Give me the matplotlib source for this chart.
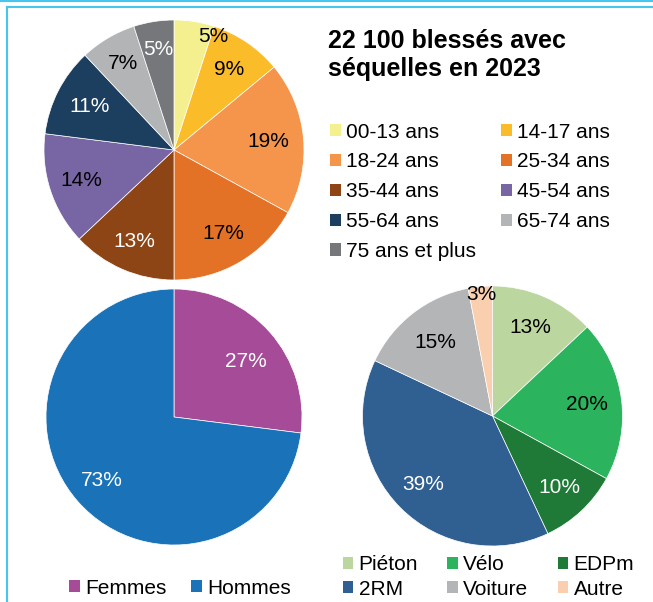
import numpy as np
import matplotlib.pyplot as plt
from matplotlib.lines import Line2D
from matplotlib.patches import Patch

plt.rcParams['font.family'] = ['Liberation Sans', 'DejaVu Sans']

W, H = 653, 602

# age groups
age_labels = ['00-13 ans', '14-17 ans', '18-24 ans', '25-34 ans', '35-44 ans',
              '45-54 ans', '55-64 ans', '65-74 ans', '75 ans et plus']
age_values = [5, 9, 19, 17, 13, 14, 11, 7, 5]
age_colors = ['#F5F08F', '#FBBC2A', '#F4954B', '#E37126', '#8E4515',
              '#7865A3', '#1C3F60', '#B3B4B6', '#76777A']
age_txt = ['black', 'black', 'black', 'black', 'white', 'black', 'white', 'black', 'white']

# sex
sex_labels = ['Femmes', 'Hommes']
sex_values = [27, 73]
sex_colors = ['#A64B97', '#1A72B8']
sex_txt = ['white', 'white']

# mode
mode_labels = ['Piéton', 'Vélo', 'EDPm', '2RM', 'Voiture', 'Autre']
mode_values = [13, 20, 10, 39, 15, 3]
mode_colors = ['#BBD69E', '#2BB35E', '#1E7A36', '#305F91', '#B4B5B7', '#F9CFAF']
mode_txt = ['black', 'black', 'white', 'white', 'black', 'black']

FS = 15


def px_axes(fig, cx, cy, r):
    # square axes around a pie centre given in pixels (y from top)
    return fig.add_axes([(cx - r) / W, (H - cy - r) / H, 2 * r / W, 2 * r / H])


def draw_pie(ax, values, colors, txt_colors, dists, shifts):
    wedges, _ = ax.pie(values, colors=colors, startangle=90, counterclock=False,
                       wedgeprops=dict(edgecolor='white', linewidth=0.5))
    for w, v, c, d, s in zip(wedges, values, txt_colors, dists, shifts):
        ang = np.deg2rad((w.theta1 + w.theta2) / 2 - s)
        ax.text(d * np.cos(ang), d * np.sin(ang), f'{v}%', color=c,
                fontsize=FS, ha='center', va='center')
    ax.set_xlim(-1, 1)
    ax.set_ylim(-1, 1)
    ax.axis('off')
    return wedges


def handles(colors, labels, order):
    return ([Patch(facecolor=colors[i], edgecolor='none') for i in order],
            [labels[i] for i in order])


fig = plt.figure(figsize=(W / 100, H / 100), dpi=100)

# frame lines
col_frame = '#45C6EF'
fig.add_artist(Line2D([1 / W, 1], [1 - 1 / H, 1 - 1 / H], color=col_frame, lw=1.5))
fig.add_artist(Line2D([7 / W, 1], [1 - 7 / H, 1 - 7 / H], color=col_frame, lw=1.5))
fig.add_artist(Line2D([7 / W, 7 / W], [1 - 7 / H, 0], color=col_frame, lw=1.5))

# age pie
ax1 = px_axes(fig, 174, 150, 130)
d1 = [0.92, 0.75, 0.73, 0.75, 0.77, 0.75, 0.73, 0.77, 0.78]
s1 = [10, 0, 0, 0, 0, 0, 0, 0, 0]
draw_pie(ax1, age_values, age_colors, age_txt, d1, s1)

# sex pie
ax2 = px_axes(fig, 174, 417, 128)
draw_pie(ax2, sex_values, sex_colors, sex_txt, [0.71, 0.75], [4, 0])

# mode pie
ax3 = px_axes(fig, 492.5, 416, 130)
d3 = [0.74, 0.73, 0.75, 0.75, 0.72, 0.94]
draw_pie(ax3, mode_values, mode_colors, mode_txt, d3, [0] * 6)

fig.text(328 / W, 1 - 29 / H, '22 100 blessés avec\nséquelles en 2023',
         fontsize=18, fontweight='bold', ha='left', va='top', linespacing=1.2)

leg_kw = dict(frameon=False, fontsize=FS, borderpad=0, handlelength=0.52,
              handleheight=0.52, handletextpad=0.25, loc='upper left',
              borderaxespad=0)

h, l = handles(age_colors, age_labels, [0, 2, 4, 6, 8, 1, 3, 5, 7])
fig.legend(h, l, ncol=2, labelspacing=0.52, columnspacing=1.2,
           bbox_to_anchor=(330 / W, 1 - 122.5 / H), **leg_kw)

h, l = handles(sex_colors, sex_labels, [0, 1])
fig.legend(h, l, ncol=2, columnspacing=1.2,
           bbox_to_anchor=(69 / W, 1 - 578.5 / H), **leg_kw)

h, l = handles(mode_colors, mode_labels, [0, 3, 1, 4, 2, 5])
fig.legend(h, l, ncol=3, labelspacing=0.25, columnspacing=1.4,
           bbox_to_anchor=(342.5 / W, 1 - 555.5 / H), **leg_kw)

fig.savefig('out.png', dpi=100)
